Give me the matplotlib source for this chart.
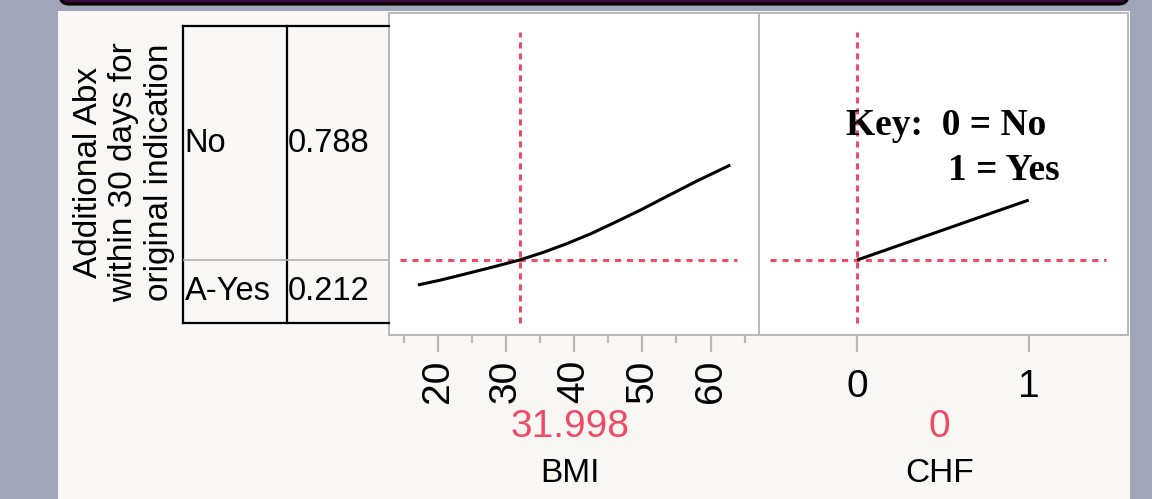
"""
Profiler view: probability of additional Abx vs BMI and CHF.
"""

import matplotlib
matplotlib.use("Agg")
import matplotlib.pyplot as plt
from matplotlib.patches import Rectangle, FancyBboxPatch
from matplotlib.ticker import MultipleLocator, FixedLocator

# ----------------------------------------------------------------------------
# Data
# ----------------------------------------------------------------------------
response_levels = ["No", "A-Yes"]
response_probs = [0.788, 0.212]

bmi_x = [17.1, 20.5, 24.2, 28.0, 32.0, 35.5, 38.8, 42.5, 46.1, 49.8, 53.4, 58.0, 62.9]
bmi_p = [0.128, 0.145, 0.166, 0.188, 0.212, 0.238, 0.266, 0.301, 0.340, 0.381, 0.424, 0.478, 0.532]

chf_x = [0, 1]
chf_p = [0.212, 0.414]

bmi_current = 31.998
chf_current = 0
p_current = 0.212

bmi_ticks = [20, 30, 40, 50, 60]
chf_ticks = [0, 1]

# ----------------------------------------------------------------------------
# Styles
# ----------------------------------------------------------------------------
W, H = 1152, 499
OUTER = '#a1a5b9'
PANEL = '#f8f7f3'
FRAME = '#b8b8b8'
RED = '#f04a66'
SANS = ['Liberation Sans', 'DejaVu Sans']
SERIF = ['Liberation Serif', 'DejaVu Serif']

YLIM = (-0.0404, 1.0438)


def fbox(x0, y0, x1, y1):
    """pixel box (top-left origin) -> figure fraction rect"""
    return [x0 / W, 1 - y1 / H, (x1 - x0) / W, (y1 - y0) / H]


fig = plt.figure(figsize=(W / 100, H / 100), dpi=100, facecolor=OUTER)

# ---- background decoration, pixel coords ----
bg = fig.add_axes([0, 0, 1, 1], zorder=0)
bg.set_xlim(0, W)
bg.set_ylim(H, 0)
bg.axis('off')
bg.add_patch(Rectangle((58, 11), 1072, 500, facecolor=PANEL, edgecolor='none'))
bg.add_patch(FancyBboxPatch((60, -20), 1068, 24,
                            boxstyle="round,pad=0,rounding_size=9",
                            facecolor='#3d0a40', edgecolor='black', lw=2.2))

# ---- response table ----
tab = fig.add_axes(fbox(183, 13, 389, 335), zorder=2)
tab.set_xlim(0, 1)
tab.set_ylim(*YLIM)
tab.axis('off')
tab.patch.set_alpha(0)
mid_col = (287 - 183) / 206
tab.plot([0, 1], [0, 0], color='black', lw=1.6, clip_on=False)
tab.plot([0, 1], [1, 1], color='black', lw=1.6, clip_on=False)
tab.plot([0, 0], [0, 1], color='black', lw=1.6, clip_on=False)
tab.plot([mid_col, mid_col], [0, 1], color='black', lw=1.6, clip_on=False)
tab.plot([0, 1], [response_probs[1], response_probs[1]], color='#b0b0b0', lw=1.2)
row_top = 1.0
for name, p in zip(response_levels, response_probs):
    yc = row_top - p / 2
    tab.text(0.008, yc, name, fontsize=23.5, family=SANS, ha='left', va='center')
    tab.text(mid_col + 0.003, yc, f"{p:.3f}", fontsize=23.5, family=SANS,
             ha='left', va='center')
    row_top -= p

fig.text(124 / W, 1 - 172 / H,
         "Additional Abx\nwithin 30 days for\noriginal indication",
         rotation=90, ha='center', va='center', multialignment='center',
         fontsize=24, family=SANS, linespacing=1.2)


def style_axis(ax):
    ax.set_facecolor('white')
    for s in ax.spines.values():
        s.set_color(FRAME)
        s.set_linewidth(1.4)
    ax.set_ylim(*YLIM)
    ax.set_yticks([])
    ax.tick_params(axis='x', which='major', direction='out', length=12.5,
                   width=1.6, color=FRAME, pad=5, labelsize=28)
    ax.tick_params(axis='x', which='minor', direction='out', length=6,
                   width=1.6, color=FRAME)
    for lab in ax.get_xticklabels():
        lab.set_family(SANS)


def crosshair(ax, xval):
    ax.plot([xval, xval], [0, 0.98], color=RED, lw=2.2, dashes=(2.0, 1.6), zorder=2)
    ax.axhline(p_current, xmin=0.03, xmax=0.94, color=RED, lw=2.2,
               dashes=(2.0, 1.9), zorder=2)


# ---- BMI ----
ax1 = fig.add_axes(fbox(389, 13, 759, 335), zorder=1)
ax1.set_xlim(12.86, 67.11)
ax1.xaxis.set_major_locator(FixedLocator(bmi_ticks))
ax1.xaxis.set_minor_locator(MultipleLocator(5))
ax1.set_xticklabels([str(t) for t in bmi_ticks], rotation=90)
style_axis(ax1)
crosshair(ax1, bmi_current)
ax1.plot(bmi_x, bmi_p, color='black', lw=2.2, zorder=3, solid_capstyle='butt',
         solid_joinstyle='round')

# ---- CHF ----
ax2 = fig.add_axes(fbox(759, 13, 1128, 335), zorder=1)
ax2.set_xlim(-0.571, 1.578)
ax2.xaxis.set_major_locator(FixedLocator(chf_ticks))
ax2.set_xticklabels([str(t) for t in chf_ticks])
style_axis(ax2)
ax2.tick_params(axis='x', pad=12)
crosshair(ax2, chf_current)
ax2.plot(chf_x, chf_p, color='black', lw=2.2, zorder=3, solid_capstyle='butt')

# ---- current values and factor names ----
fig.text(570 / W, 1 - 427 / H, f"{bmi_current:.3f}", color=RED, fontsize=28,
         family=SANS, ha='center', va='center')
fig.text(570 / W, 1 - 474 / H, "BMI", fontsize=24, family=SANS,
         ha='center', va='center')
fig.text(939 / W, 1 - 427 / H, f"{chf_current}", color=RED, fontsize=28,
         family=SANS, ha='center', va='center')
fig.text(940 / W, 1 - 473 / H, "CHF", fontsize=24, family=SANS,
         ha='center', va='center')

# ---- key ----
fig.text(846 / W, 1 - 135 / H, "Key:  0 = No", fontsize=27, family=SERIF,
         weight='bold', ha='left', va='baseline', zorder=5)
fig.text(948 / W, 1 - 180 / H, "1 = Yes", fontsize=27, family=SERIF,
         weight='bold', ha='left', va='baseline', zorder=5)

fig.savefig("out.png", dpi=100, facecolor=OUTER)
plt.close(fig)
